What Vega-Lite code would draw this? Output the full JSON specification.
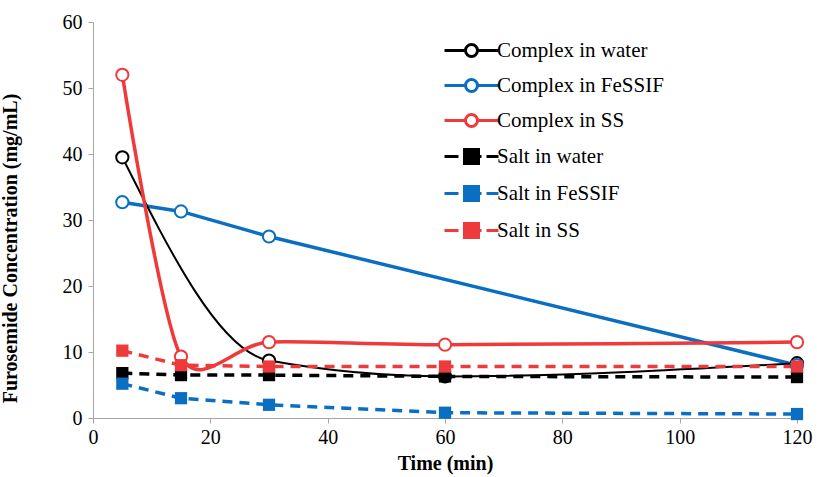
{
  "$schema": "https://vega.github.io/schema/vega-lite/v6.json",
  "width": 704,
  "height": 396,
  "autosize": {"type": "none"},
  "padding": {"left": 93, "top": 22, "right": 20, "bottom": 59},
  "background": "white",
  "config": {
    "view": {"stroke": null},
    "font": "Liberation Serif",
    "axis": {"grid": false, "domainColor": "#a6a6a6", "tickColor": "#a6a6a6", "tickSize": 5, "labelFlush": false, "labelFont": "Liberation Serif", "labelFontSize": 20, "labelColor": "#000", "titleFont": "Liberation Serif", "titleFontSize": 20, "titleFontWeight": "bold", "titleColor": "#000"}
  },
  "data": {
    "values": [
      {"series": "Complex in water", "time": 5, "conc": 39.5},
      {"series": "Complex in water", "time": 30, "conc": 8.7},
      {"series": "Complex in water", "time": 60, "conc": 6.3},
      {"series": "Complex in water", "time": 120, "conc": 8.3},
      {"series": "Complex in FeSSIF", "time": 5, "conc": 32.7},
      {"series": "Complex in FeSSIF", "time": 15, "conc": 31.3},
      {"series": "Complex in FeSSIF", "time": 30, "conc": 27.5},
      {"series": "Complex in FeSSIF", "time": 120, "conc": 8.0},
      {"series": "Complex in SS", "time": 5, "conc": 52.0},
      {"series": "Complex in SS", "time": 15, "conc": 9.3},
      {"series": "Complex in SS", "time": 30, "conc": 11.5},
      {"series": "Complex in SS", "time": 60, "conc": 11.1},
      {"series": "Complex in SS", "time": 120, "conc": 11.5},
      {"series": "Salt in water", "time": 5, "conc": 6.8},
      {"series": "Salt in water", "time": 15, "conc": 6.5},
      {"series": "Salt in water", "time": 30, "conc": 6.5},
      {"series": "Salt in water", "time": 60, "conc": 6.3},
      {"series": "Salt in water", "time": 120, "conc": 6.2},
      {"series": "Salt in FeSSIF", "time": 5, "conc": 5.2},
      {"series": "Salt in FeSSIF", "time": 15, "conc": 3.0},
      {"series": "Salt in FeSSIF", "time": 30, "conc": 2.0},
      {"series": "Salt in FeSSIF", "time": 60, "conc": 0.8},
      {"series": "Salt in FeSSIF", "time": 120, "conc": 0.6},
      {"series": "Salt in SS", "time": 5, "conc": 10.2},
      {"series": "Salt in SS", "time": 15, "conc": 8.0},
      {"series": "Salt in SS", "time": 30, "conc": 7.8},
      {"series": "Salt in SS", "time": 60, "conc": 7.8},
      {"series": "Salt in SS", "time": 120, "conc": 7.8}
    ]
  },
  "encoding": {
    "x": {"field": "time", "type": "quantitative", "scale": {"domain": [0, 120]}, "axis": {"values": [0, 20, 40, 60, 80, 100, 120], "title": "Time (min)", "titlePadding": 6, "labelPadding": 4}},
    "y": {"field": "conc", "type": "quantitative", "scale": {"domain": [0, 60]}, "axis": {"values": [0, 10, 20, 30, 40, 50, 60], "title": "Furosemide Concentration (mg/mL)", "titleX": -73, "titleY": 226, "labelPadding": 6}}
  },
  "layer": [
    {
      "transform": [{"filter": "datum.series === 'Complex in FeSSIF'"}],
      "mark": {"type": "line", "strokeWidth": 3.5},
      "encoding": {"stroke": {"field": "series", "type": "nominal",
        "scale": {"domain": ["Complex in water", "Complex in FeSSIF", "Complex in SS", "Salt in water", "Salt in FeSSIF", "Salt in SS"], "range": ["#000000", "#0a6fc2", "#ee3a3a", "#000000", "#0a6fc2", "#ee3a3a"]},
        "legend": {"orient": "none", "legendX": 367, "legendY": 17, "title": null, "padding": 0, "labelFont": "Liberation Serif", "labelFontSize": 21, "labelLimit": 400, "labelColor": "#000", "rowPadding": 10, "labelOffset": 14, "symbolSize": 400, "symbolStrokeWidth": 3,
          "encode": {"symbols": {"update": {
            "shape": {"signal": "indexof(['Salt in water','Salt in FeSSIF','Salt in SS'], datum.value) >= 0 ? 'M-2.7,0H-1.3M-0.7,-0.7H0.7V0.7H-0.7ZM0.7,0H1M1.5,0H2.7' : 'M-2.7,0H-0.6M0.6,0H2.7M0.6,0A0.6,0.6,0,1,1,-0.6,0A0.6,0.6,0,1,1,0.6,0ZM0.6,0A0.6,0.6,0,1,0,-0.6,0A0.6,0.6,0,1,0,0.6,0Z'"},
            "size": {"value": 400},
            "strokeWidth": {"value": 3},
            "strokeDash": {"value": []},
            "stroke": {"scale": "stroke", "field": "value"},
            "fill": {"scale": "stroke", "field": "value"},
            "opacity": {"value": 1}
          }}}}}}
    },
    {
      "transform": [{"filter": "datum.series === 'Complex in water'"}],
      "mark": {"type": "line", "strokeWidth": 2, "interpolate": "monotone"},
      "encoding": {"stroke": {"field": "series", "type": "nominal"}}
    },
    {
      "transform": [{"filter": "indexof(['Salt in water','Salt in FeSSIF','Salt in SS'], datum.series) >= 0"}],
      "mark": {"type": "line", "strokeWidth": 3.5, "strokeDash": [10, 7]},
      "encoding": {"stroke": {"field": "series", "type": "nominal"}}
    },
    {
      "transform": [{"filter": "datum.series === 'Complex in SS'"}],
      "mark": {"type": "line", "strokeWidth": 3.5, "interpolate": "cardinal", "tension": 0.2},
      "encoding": {"stroke": {"field": "series", "type": "nominal"}}
    },
    {
      "transform": [{"filter": "indexof(['Complex in water','Complex in FeSSIF','Complex in SS'], datum.series) >= 0"}],
      "mark": {"type": "point", "shape": "circle", "size": 150, "strokeWidth": 2, "filled": false, "fill": "white", "opacity": 1},
      "encoding": {"color": {"field": "series", "type": "nominal", "legend": null,
        "scale": {"domain": ["Complex in water", "Complex in FeSSIF", "Complex in SS", "Salt in water", "Salt in FeSSIF", "Salt in SS"], "range": ["#000000", "#0a6fc2", "#ee3a3a", "#000000", "#0a6fc2", "#ee3a3a"]}}}
    },
    {
      "transform": [{"filter": "indexof(['Salt in water','Salt in FeSSIF','Salt in SS'], datum.series) >= 0"}],
      "mark": {"type": "point", "shape": "square", "size": 150, "filled": true, "opacity": 1},
      "encoding": {"color": {"field": "series", "type": "nominal", "legend": null}}
    }
  ]
}
